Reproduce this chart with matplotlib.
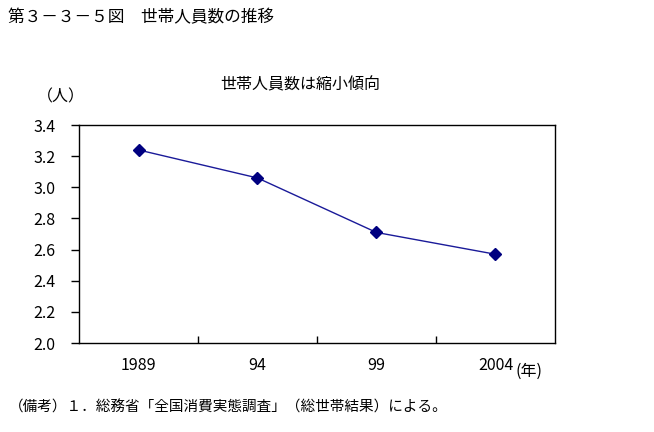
import matplotlib
matplotlib.use("Agg")
import matplotlib.pyplot as plt

plt.rcParams['font.family'] = ['Noto Sans CJK JP', 'DejaVu Sans']

# 世帯人員数 (人)
years = ['1989', '94', '99', '2004']
members = [3.24, 3.06, 2.71, 2.57]
y_ticks = [2.0, 2.2, 2.4, 2.6, 2.8, 3.0, 3.2, 3.4]

fig = plt.figure(figsize=(6.54, 4.32), dpi=100)
ax = fig.add_axes([0.1208, 0.206, 0.7278, 0.5046])

x = list(range(len(years)))
ax.plot(x, members, color='#1a1a99', linewidth=1.0,
        marker='D', markersize=6.5, markerfacecolor='#000080',
        markeredgecolor='#000080')

ax.set_xlim(-0.5, len(years) - 0.5)
ax.set_ylim(2.0, 3.4)
ax.set_yticks(y_ticks)
ax.set_yticklabels([f'{v:.1f}' for v in y_ticks], fontsize=11.5)
ax.tick_params(axis='y', direction='out', length=6, width=1, pad=11)

# category labels without tick marks, boundaries with inward ticks
ax.set_xticks(x)
ax.set_xticklabels(years, fontsize=11.5)
ax.tick_params(axis='x', which='major', length=0, pad=10)
ax.set_xticks([i + 0.5 for i in x[:-1]], minor=True)
ax.tick_params(axis='x', which='minor', direction='in', length=5, width=1)

for sp in ax.spines.values():
    sp.set_linewidth(1)
    sp.set_color('black')

ax.text(0.945, -0.128, '(年)', transform=ax.transAxes, fontsize=11.5,
        ha='center', va='center')

fig.text(0.012, 0.958, '第３－３－５図　世帯人員数の推移', fontsize=12,
         ha='left', va='center')
fig.text(0.459, 0.803, '世帯人員数は縮小傾向', fontsize=11.5,
         ha='center', va='center')
fig.text(0.093, 0.775, '（人）', fontsize=11.5, ha='center', va='center')
fig.text(0.014, 0.056, '（備考）１．総務省「全国消費実態調査」（総世帯結果）による。',
         fontsize=10.5, ha='left', va='center')

fig.savefig('out.png', dpi=100)
